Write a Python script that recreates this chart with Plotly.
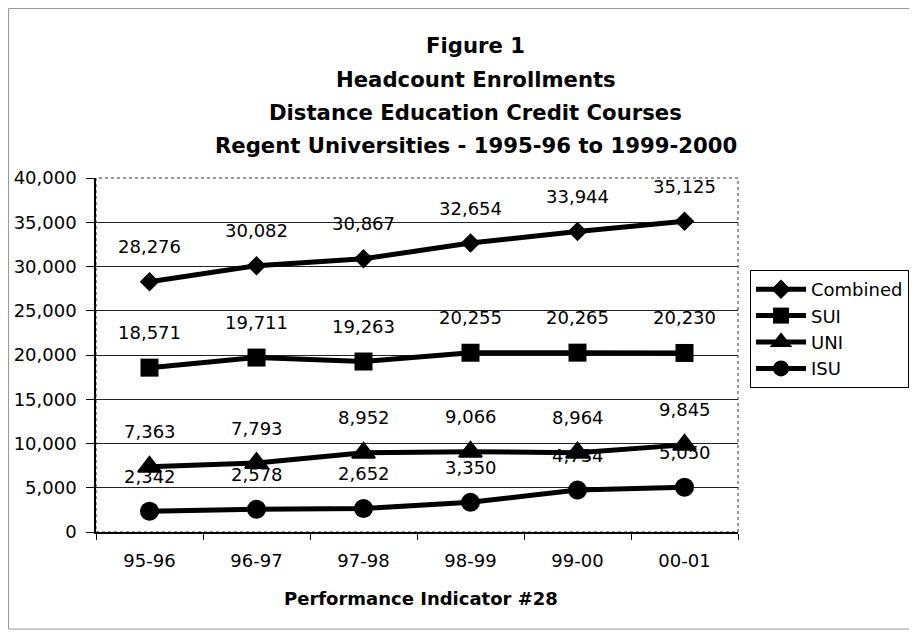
import plotly.graph_objects as go

categories = ["95-96", "96-97", "97-98", "98-99", "99-00", "00-01"]
combined = [28276, 30082, 30867, 32654, 33944, 35125]
sui = [18571, 19711, 19263, 20255, 20265, 20230]
uni = [7363, 7793, 8952, 9066, 8964, 9845]
isu = [2342, 2578, 2652, 3350, 4734, 5050]

series = [
    ("Combined", combined, "diamond", 15),
    ("SUI", sui, "square", 18),
    ("UNI", uni, "triangle-up", 20),
    ("ISU", isu, "circle", 19),
]

title_lines = [
    "Figure 1",
    "Headcount Enrollments",
    "Distance Education Credit Courses",
    "Regent Universities - 1995-96 to 1999-2000",
]

FONT = "DejaVu Sans"
OFF = 8  # page body margin
FW, FH = 917 - OFF, 632 - OFF
# plot area in screen pixels
L, R, T, B = 96, 738, 178, 532
W, H = R - L, B - T


def px(x):
    return (x - L) / W


def py(y):
    return (B - y) / H


fig = go.Figure()
annotations = []
for name, vals, sym, sz in series:
    fig.add_trace(go.Scatter(
        x=categories, y=vals, name=name, mode="lines+markers",
        line=dict(color="black", width=5),
        marker=dict(symbol=sym, size=sz, color="black",
                    line=dict(color="black", width=2 if sym == "triangle-up" else 0)),
    ))
    for c, v in zip(categories, vals):
        annotations.append(dict(
            x=c, y=v, xref="x", yref="y", text=f"{v:,}", showarrow=False,
            yshift=35, font=dict(family=FONT, size=18, color="black"),
        ))

title_y = [45, 79, 112, 145]
for txt, yy in zip(title_lines, title_y):
    annotations.append(dict(
        x=px(476), y=py(yy), xref="paper", yref="paper", text=f"<b>{txt}</b>",
        showarrow=False, xanchor="center", yanchor="middle",
        font=dict(family=FONT, size=21.2, color="black"),
    ))

annotations.append(dict(
    x=px(421), y=py(598), xref="paper", yref="paper",
    text="<b>Performance Indicator #28</b>", showarrow=False,
    xanchor="center", yanchor="middle",
    font=dict(family=FONT, size=18, color="black"),
))

shapes = [
    # plot area border (dotted)
    dict(type="rect", xref="paper", yref="paper", x0=0, x1=1, y0=0, y1=1,
         line=dict(color="#777", width=1.5, dash="dot"), layer="below"),
    # outer chart border
    dict(type="rect", xref="paper", yref="paper", x0=px(OFF + 0.5), x1=px(915),
         y0=py(629), y1=py(OFF + 0.5), line=dict(color="#999", width=1)),
]

fig.update_layout(
    width=FW, height=FH,
    margin=dict(l=L - OFF, r=917 - R, t=T - OFF, b=632 - B, autoexpand=False),
    paper_bgcolor="white", plot_bgcolor="white",
    font=dict(family=FONT, size=18, color="black"),
    showlegend=True,
    legend=dict(
        x=px(750), y=py(270), xanchor="left", yanchor="top",
        bordercolor="black", borderwidth=1, bgcolor="white",
        font=dict(family=FONT, size=18, color="black"),
        itemwidth=50, tracegroupgap=0,
    ),
    annotations=annotations,
    shapes=shapes,
)

fig.update_xaxes(
    type="category", range=[-0.5, 5.5], showgrid=False, automargin=False,
    showline=True, linecolor="black", linewidth=1.5,
    ticks="outside", tickson="boundaries", ticklen=6, tickcolor="black",
    ticklabelstandoff=12,
    tickfont=dict(family=FONT, size=18, color="black"),
)
fig.update_yaxes(
    range=[0, 40000], dtick=5000, tickformat=",", automargin=False,
    showgrid=True, gridcolor="#222", gridwidth=1,
    showline=True, linecolor="black", linewidth=1.5,
    ticks="outside", ticklen=8, tickcolor="black",
    ticklabelstandoff=6, zeroline=False,
    tickfont=dict(family=FONT, size=18, color="black"),
)

fig.write_html("out.html")
